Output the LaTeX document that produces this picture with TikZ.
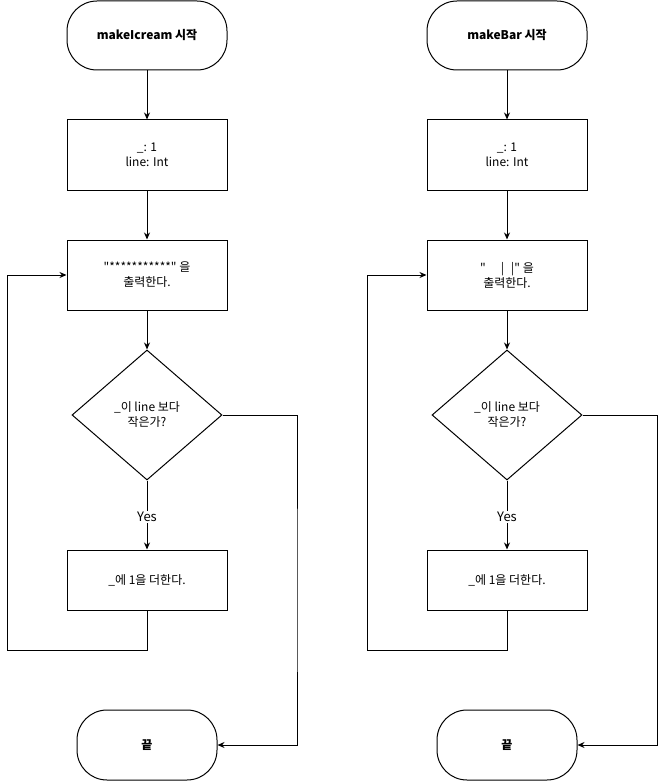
\documentclass[tikz,border=0pt]{standalone}
\usepackage{fontspec}
\setmainfont{Noto Sans CJK KR}[Ligatures=TeXOff]
\usetikzlibrary{shapes.geometric,arrows.meta}
\tikzset{
  base/.style={draw=black,line width=1pt,align=center,inner sep=0pt,font=\fontsize{12}{15}\selectfont},
  term/.style={base,rounded corners=30pt,minimum width=160pt,minimum height=69pt,font=\fontsize{12}{15}\selectfont\bfseries},
  termend/.style={term,minimum width=140pt,minimum height=70pt},
  proc/.style={base,minimum width=160pt,minimum height=70pt},
  proc2/.style={base,minimum width=160pt,minimum height=60pt},
  dec/.style={base,diamond,minimum width=150pt,minimum height=130pt,aspect=1.15},
  arr/.style={line width=1pt,-{Stealth[length=7pt,width=6pt]}},
  lbl/.style={fill=white,inner sep=1pt,font=\fontsize{13}{15}\selectfont}
}
\begin{document}
\begin{tikzpicture}[x=1pt,y=-1pt]
\useasboundingbox (0,0) rectangle (666,781);
% left column
\node[term] (s1) at (147,35.5) {makeIcream 시작};
\node[proc] (a1) at (147,155) {\_: 1\\line: Int};
\node[proc] (a2) at (147,275) {"***********" 을\\출력한다.};
\node[dec] (ad) at (147,415) {\_이 line 보다\\작은가?};
\node[proc2] (a3) at (147,580) {\_에 1을 더한다.};
\node[termend] (ae) at (147,745) {끝};
\coordinate (al) at (7,650);
\coordinate (ar) at (297,600);
\draw[arr] (s1) -- (a1);
\draw[arr] (a1) -- (a2);
\draw[arr] (a2) -- (ad);
\draw[arr] (ad) -- node[lbl,yshift=-2pt] {Yes} (a3);
\draw[arr] (a3.south) |- (al) |- (a2.west);
\draw[arr] (ad.east) -| (ar) |- (ae.east);
% right column
\node[term] (s2) at (507,35.5) {makeBar 시작};
\node[proc] (b1) at (507,155) {\_: 1\\line: Int};
\node[proc] (b2) at (507,275) {"\hspace{15pt}|\hspace{7pt}|" 을\\출력한다.};
\node[dec] (bd) at (507,415) {\_이 line 보다\\작은가?};
\node[proc2] (b3) at (507,580) {\_에 1을 더한다.};
\node[termend] (be) at (507,745) {끝};
\coordinate (bl) at (367,650);
\coordinate (br) at (657,600);
\draw[arr] (s2) -- (b1);
\draw[arr] (b1) -- (b2);
\draw[arr] (b2) -- (bd);
\draw[arr] (bd) -- node[lbl,yshift=-2pt] {Yes} (b3);
\draw[arr] (b3.south) |- (bl) |- (b2.west);
\draw[arr] (bd.east) -| (br) |- (be.east);
\end{tikzpicture}
\end{document}
